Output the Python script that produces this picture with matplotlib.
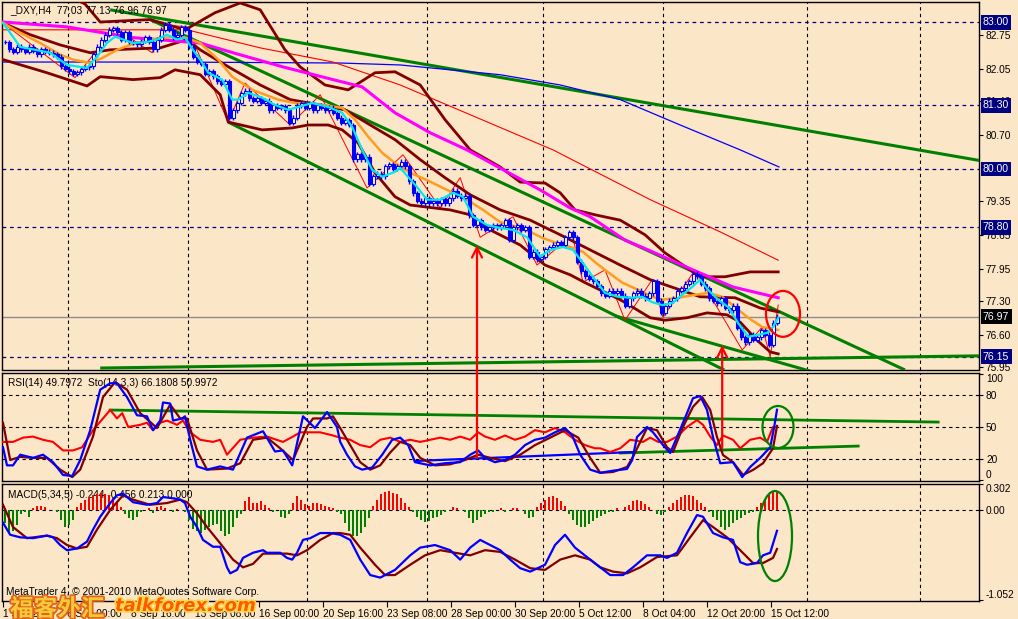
import numpy as np
import matplotlib
matplotlib.use("Agg")
import matplotlib.pyplot as plt
import matplotlib.transforms as mtransforms
import matplotlib.patheffects as pe
from matplotlib.patches import Ellipse, ConnectionPatch

plt.rcParams['font.family'] = ['Liberation Sans', 'DejaVu Sans']

# =========================================================
# DATA  (x = H4 bar index, y = price / indicator value)
# =========================================================
close = [
    82.60, 82.45, 82.40, 82.50, 82.45, 82.40, 82.50, 82.42, 82.35, 82.45,
    82.40, 82.38, 82.35, 82.30, 82.10, 82.05, 82.00, 81.95, 81.98, 82.05,
    82.08, 82.10, 82.35, 82.50, 82.65, 82.75, 82.85, 82.88, 82.80, 82.65,
    82.80, 82.60, 82.58, 82.55, 82.62, 82.70, 82.60, 82.45, 82.65, 82.85,
    82.95, 82.85, 82.70, 82.75, 82.90, 82.85, 82.50, 82.30, 82.20, 82.15,
    81.95, 82.00, 81.90, 81.80, 81.75, 81.80, 81.05, 81.20, 81.35, 81.55,
    81.60, 81.45, 81.40, 81.45, 81.35, 81.40, 81.20, 81.30, 81.25, 81.28,
    81.20, 80.95, 81.05, 81.30, 81.35, 81.25, 81.35, 81.20, 81.30, 81.25,
    81.20, 81.25, 81.15, 81.05, 80.95, 81.00, 80.90, 80.20, 80.30, 80.20,
    80.25, 79.70, 79.85, 79.90, 79.85, 80.05, 80.10, 80.00, 80.05, 80.15,
    80.05, 79.75, 79.50, 79.35, 79.30, 79.40, 79.30, 79.35, 79.30, 79.38,
    79.30, 79.40, 79.55, 79.45, 79.40, 79.45, 79.05, 78.85, 78.95, 78.80,
    78.75, 78.80, 78.85, 78.80, 78.85, 78.95, 78.55, 78.80, 78.85, 78.75,
    78.80, 78.20, 78.30, 78.15, 78.20, 78.35, 78.40, 78.45, 78.50, 78.45,
    78.60, 78.70, 78.60, 78.10, 77.90, 77.80, 77.75, 77.70, 77.60, 77.45,
    77.40, 77.50, 77.45, 77.50, 77.40, 77.20, 77.35, 77.45, 77.50, 77.40,
    77.35, 77.45, 77.70, 77.30, 77.05, 77.20, 77.30, 77.35, 77.50, 77.55,
    77.65, 77.70, 77.85, 77.80, 77.65, 77.55, 77.35, 77.30, 77.25, 77.35,
    77.15, 77.10, 77.20, 76.75, 76.55, 76.45, 76.60, 76.50, 76.55, 76.70,
    76.60, 76.40, 76.85, 76.97,
]

cyan_ma = [(-0.5, 82.99), (3.8, 82.50), (11.3, 82.38), (15.5, 82.13), (20.5, 82.07), (23, 82.30),
           (25.5, 82.58), (27.5, 82.71), (32, 82.58), (35.5, 82.60), (38, 82.65), (40.5, 82.75),
           (43, 82.65), (45, 82.69), (47, 82.44), (48.8, 82.24), (50.8, 81.97), (54.3, 81.83),
           (56.8, 81.42), (58.3, 81.42), (60.8, 81.56), (64.3, 81.46), (67.5, 81.31), (70.8, 81.21),
           (73.3, 81.27), (76.8, 81.35), (80.8, 81.27), (84.3, 81.15), (86.8, 80.86), (89.3, 80.39),
           (91.8, 79.98), (94.3, 79.84), (97.5, 79.94), (98.8, 80.02), (103, 79.63), (105.5, 79.37),
           (108.8, 79.37), (112, 79.51), (114.5, 79.43), (117, 79.02), (120.5, 78.85), (123.8, 78.79),
           (127, 78.75), (130.5, 78.60), (133.8, 78.20), (136.3, 78.34), (139.5, 78.40), (142, 78.34),
           (144.5, 78.07), (147.5, 77.73), (150, 77.46), (153.3, 77.38), (156.8, 77.36), (159.3, 77.38),
           (161.8, 77.27), (164.3, 77.21), (166.8, 77.25), (169.3, 77.42), (171.8, 77.58), (173.8, 77.73),
           (175.8, 77.52), (178.3, 77.32), (180.8, 77.17), (183.3, 76.84), (185.8, 76.56), (188.3, 76.60),
           (190.5, 76.64), (192, 76.76), (193.3, 76.95)]

orange_ma = [(-0.5, 82.99), (3.8, 82.79), (8.8, 82.58), (13.8, 82.34), (17, 82.24), (21.3, 82.17),
             (24.5, 82.28), (28, 82.44), (31.3, 82.54), (36.3, 82.65), (40.5, 82.69), (44.5, 82.71),
             (48.8, 82.58), (53.3, 82.24), (56.8, 81.89), (61.8, 81.62), (68.3, 81.42), (72.5, 81.35),
             (79.3, 81.31), (84.3, 81.25), (87.5, 81.01), (90.8, 80.66), (94.3, 80.33), (97.5, 80.12),
             (101.3, 79.92), (105.5, 79.77), (110.5, 79.57), (115.5, 79.37), (119.5, 79.16), (123.8, 78.91),
             (128, 78.81), (131.3, 78.71), (134.5, 78.58), (138, 78.48), (141.3, 78.40), (144.5, 78.30),
             (147.5, 78.09), (150, 77.93), (154.3, 77.67), (158.3, 77.52), (161.8, 77.38), (164.3, 77.32),
             (168.3, 77.36), (172.5, 77.42), (175.8, 77.46), (179.3, 77.38), (182.5, 77.17), (185.8, 76.95),
             (189.3, 76.76), (193.3, 76.70)]

magenta_ma = [(-0.5, 83.01), (15.5, 82.91), (32, 82.69), (48.8, 82.58), (57, 82.38), (69.5, 82.09),
              (82, 81.83), (89.3, 81.68), (97.5, 81.15), (106.3, 80.74), (115.5, 80.39), (125.5, 79.94),
              (133.8, 79.57), (141.3, 79.20), (146.3, 79.02), (155, 78.54), (160.8, 78.34), (172, 77.93),
              (182, 77.58), (193.3, 77.36)]

blue_ma = [(-0.5, 82.19), (41.3, 82.19), (83.8, 82.17), (98.8, 82.13), (123.8, 81.93), (138.8, 81.72),
           (153.8, 81.42), (168.8, 80.90), (183.8, 80.39), (193.5, 80.04)]

red_ma = [(-0.5, 82.85), (45.5, 82.85), (63.8, 82.48), (82, 82.19), (98.8, 81.72), (116.3, 81.11),
          (137, 80.39), (161.3, 79.37), (178.8, 78.71), (193.3, 78.13)]

bb_upper = [(-0.5, 83.55), (8.8, 83.58), (17, 83.50), (20, 83.38), (23.8, 83.01), (36.3, 83.06), (45, 82.85),
            (52.5, 83.20), (58.8, 83.40), (63.8, 83.26), (70, 82.44), (73.8, 82.09), (80, 81.72),
            (85.8, 81.62), (92.5, 81.97), (97.5, 81.99), (103.8, 81.72), (110, 81.01), (116.3, 80.39),
            (123.8, 80.04), (128.8, 79.73), (135, 79.71), (138.8, 79.51), (142.5, 79.16), (147.5, 79.06),
            (153.8, 78.95), (160, 78.65), (165, 78.28), (171.3, 77.93), (173.8, 77.79), (180, 77.79),
            (186.3, 77.89), (193.3, 77.89)]

bb_middle = [(-0.5, 82.99), (6.3, 82.75), (13.8, 82.54), (21.3, 82.38), (26.3, 82.44), (38.8, 82.48),
             (45.5, 82.65), (48.8, 82.44), (56.3, 82.07), (63.8, 81.72), (71.3, 81.42), (78.8, 81.31),
             (85, 81.21), (91.3, 80.90), (97.5, 80.60), (103.8, 80.19), (110, 79.82), (116.3, 79.47),
             (123.8, 79.16), (131.3, 78.95), (138.8, 78.65), (146.3, 78.34), (153.8, 78.03), (161.3, 77.73),
             (168.8, 77.52), (173.8, 77.38), (182.5, 77.36), (188.8, 77.15), (193.3, 77.07)]

bb_lower = [(-0.5, 82.24), (10.5, 81.97), (20.5, 81.70), (23.8, 81.89), (32, 81.83), (38.8, 81.87),
            (42.5, 82.03), (48.8, 81.93), (53.8, 81.52), (55.8, 80.96), (64.3, 80.80), (71.8, 80.84),
            (75.8, 80.90), (80.8, 80.90), (84.3, 80.80), (88.3, 80.53), (92.5, 79.92), (97.5, 79.43),
            (101.3, 79.26), (111.3, 79.16), (116.3, 79.06), (121.3, 78.75), (128.8, 78.44), (135, 78.03),
            (141.3, 77.83), (145, 77.67), (153.8, 77.32), (161.3, 76.95), (165, 76.90), (170.5, 76.95),
            (175.5, 77.05), (180.5, 77.01), (183.8, 76.86), (188, 76.49), (191.3, 76.25), (193.3, 76.21)]

zigzag = [(-0.5, 82.99), (17.5, 81.87), (27.5, 82.89), (36.8, 82.38), (40, 82.95), (45.5, 82.91),
          (55.8, 80.96), (60, 81.76), (71.3, 80.90), (78.8, 81.52), (90.5, 79.61), (99.5, 80.29),
          (108.8, 79.20), (113.8, 79.82), (118.8, 78.60), (127, 79.02), (133, 78.03), (141.8, 78.65),
          (144.5, 77.68), (150, 77.93), (155, 76.90), (161.8, 77.73), (164.5, 76.96), (172.5, 77.93),
          (184.3, 76.29), (189.3, 76.76), (191.3, 76.15), (193.3, 77.21)]

# trendlines drawn on the chart: (start, end)
price_trendlines = [((26.3, 83.26), (243.8, 80.17)),
                    ((36.3, 83.06), (225.0, 75.88)),
                    ((55.8, 80.96), (179.8, 75.88)),
                    ((152.5, 76.99), (206.3, 75.74)),
                    ((23.8, 75.92), (243.8, 76.17))]
price_levels = [83.00, 81.30, 80.00, 78.80, 76.15]
last_price = 76.97
price_ticks = [82.75, 82.05, 81.40, 80.70, 79.35, 78.65, 77.95, 77.30, 76.60, 75.95]

rsi = [(-0.5, 36), (2, 36), (4.5, 40), (7, 41), (9.5, 38), (12, 36), (14.5, 28), (17, 28), (19.3, 31),
       (22, 47), (24.5, 58), (26.3, 66), (28, 58), (29.3, 63), (30.8, 50), (33.8, 52), (35.5, 54),
       (37, 47), (38.8, 54), (40.5, 56), (43, 52), (44.5, 56), (46.3, 45), (48.8, 38), (52, 36),
       (53.8, 38), (55.5, 24), (58.8, 38), (62, 40), (65.5, 41), (69.5, 36), (72, 41), (73.8, 45),
       (78.8, 45), (82, 42), (83.8, 40), (86.3, 38), (88.8, 33), (91.3, 31), (93.8, 38), (96.3, 40),
       (98.8, 36), (101.3, 38), (103.8, 36), (106.3, 38), (108.8, 40), (111.3, 38), (113.8, 41),
       (116.3, 38), (118.3, 45), (120, 41), (122.5, 38), (125, 42), (127.5, 38), (130, 41), (132.5, 47),
       (135, 45), (137.5, 49), (140, 45), (142.5, 38), (145, 33), (147.5, 30), (148.8, 30), (151.3, 26.5),
       (153.8, 30), (156.3, 38), (159.5, 36), (161.3, 40), (163.3, 36), (165.5, 36), (168, 41),
       (170.5, 50), (173, 56.5), (174.5, 52), (176.3, 41), (178, 33), (179.5, 42), (182, 38), (183.8, 30),
       (186.3, 38), (188.8, 40), (190.5, 36), (192, 50), (193, 49.8)]

stoch_main = [(-0.5, 31), (0.5, 14), (2, 14), (3.8, 24), (7, 21), (9.5, 24), (12, 17), (14.5, 5), (16.8, 4),
              (18.8, 19), (21.3, 47), (23.8, 85), (26.3, 91), (28, 91), (30.5, 78), (33, 61), (35.5, 60),
              (37, 47), (38.8, 56), (39.5, 73), (41.3, 72), (42, 56), (44.3, 58), (45, 60), (46.3, 38),
              (48, 13), (50.5, 10), (53.8, 13), (57, 10), (60.5, 40), (64.5, 46), (67.5, 27), (69.5, 28),
              (71.8, 14), (74.5, 60), (77.5, 49), (80.5, 64), (83, 50), (83.8, 36), (85.5, 24), (87.5, 13),
              (89.3, 10), (91.8, 12), (94.3, 24), (96.8, 38), (98.8, 40), (100.8, 33), (102.5, 17),
              (106.3, 14), (110, 16), (113.8, 17), (116.3, 24), (118.3, 28), (120, 21), (122.5, 17),
              (125, 19), (127.5, 24), (130, 33), (132.5, 38), (135, 40), (137.5, 45), (140, 49), (141.8, 42),
              (143.8, 24), (146.3, 10), (148.8, 7), (152, 9), (155.5, 10.6), (156.8, 19), (158, 40.6),
              (160.5, 50), (162, 45), (164.5, 33), (166.3, 25.6), (168, 40.6), (170.5, 63), (172, 77),
              (173.8, 79), (175.5, 66), (177, 40.6), (178.8, 16), (182, 17), (184.3, 3), (186.3, 12.5),
              (188.8, 21), (191.3, 31), (192.3, 50), (193, 66.2)]

stoch_signal = [(-0.5, 54), (1.3, 19), (3.8, 22), (7, 21), (10.5, 21), (13.8, 10), (16.8, 3), (18.8, 10),
                (22, 41), (24.5, 78), (27.5, 92), (30.5, 85), (33.8, 63), (38, 49), (41.3, 71), (43.8, 58),
                (45.5, 58), (48, 28), (50.5, 10), (55.5, 11), (58.8, 16), (62, 38), (65.5, 40), (68.8, 30),
                (72, 19), (75.5, 50), (77, 58), (80.5, 58), (82, 60), (83.8, 49), (86.3, 33), (88.8, 17),
                (91.3, 10), (93.8, 14), (96.3, 26), (98.8, 36), (101.3, 33), (103.8, 21), (107.5, 14),
                (111.3, 15), (115, 19), (118.3, 24), (121.3, 21), (125, 18), (128.8, 24), (132.5, 33),
                (136.3, 40), (140, 47), (143.3, 40), (146.3, 21), (148.8, 7), (152, 7.8), (155.5, 12.5),
                (157, 22), (160.5, 49), (163, 47), (165.5, 31), (167, 26.5), (169.5, 50), (172, 69),
                (174.3, 78), (176.3, 66), (178, 40.6), (179.5, 23.7), (182, 17), (184.5, 5), (187, 9.7),
                (189.5, 16), (192, 30), (193, 51)]

rsi_trendlines_green = [((26.3, 65.9), (233.3, 54.6)), ((153.8, 25.6), (213.3, 32.1))]
rsi_trendlines_blue = [((102.5, 18.1), (157.0, 26.5))]

macd_main = [(-0.5, -0.15), (1.3, -0.29), (3.8, -0.32), (7, -0.33), (10.5, -0.30), (12, -0.32),
             (13.8, -0.41), (15.5, -0.47), (18, -0.45), (20.5, -0.37), (22, -0.23), (23.8, -0.08),
             (26.3, 0.08), (28, 0.17), (29.5, 0.19), (32, 0.09), (35.5, 0.06), (38, 0.08), (39.5, 0.15),
             (41.3, 0.14), (43.8, 0.12), (45, 0.08), (46.3, -0.08), (48, -0.20), (49.5, -0.35), (52, -0.43),
             (53.8, -0.43), (55.5, -0.67), (56.3, -0.74), (58, -0.70), (59.5, -0.56), (62, -0.50),
             (64.5, -0.47), (65.5, -0.50), (68.8, -0.50), (70.5, -0.56), (71.8, -0.58), (73, -0.50),
             (74.5, -0.35), (76.3, -0.33), (78.8, -0.27), (81.3, -0.27), (83.8, -0.29), (86.3, -0.35),
             (88.8, -0.58), (91.3, -0.76), (93.8, -0.79), (97.5, -0.70), (101.3, -0.53), (103.8, -0.44),
             (107.5, -0.41), (111.3, -0.47), (113.8, -0.58), (116.3, -0.44), (118.8, -0.35), (121.3, -0.41),
             (123.8, -0.47), (126.3, -0.58), (128.8, -0.68), (131.3, -0.72), (135, -0.64), (137.5, -0.41),
             (140, -0.29), (142.5, -0.44), (146.3, -0.58), (148.8, -0.67), (151.3, -0.76), (154.5, -0.76),
             (157, -0.67), (160.5, -0.53), (163.8, -0.53), (165.5, -0.56), (168, -0.50), (170.5, -0.27),
             (173, -0.06), (174.5, -0.08), (177, -0.27), (179.5, -0.32), (182, -0.35), (183.8, -0.61),
             (185.5, -0.64), (188, -0.62), (189.5, -0.53), (191.3, -0.50), (193, -0.244)]

macd_signal = [(-0.5, 0.06), (2, -0.20), (5.5, -0.33), (10.5, -0.30), (13, -0.33), (15.5, -0.41),
               (18, -0.45), (20.5, -0.43), (23, -0.23), (26.3, 0.0), (29.5, 0.17), (32, 0.12), (36.3, 0.06),
               (40.5, 0.08), (43.8, 0.12), (45.5, 0.09), (48, -0.04), (50.5, -0.20), (53.8, -0.39),
               (57, -0.58), (59.5, -0.67), (62, -0.63), (64.5, -0.51), (68, -0.51), (70.5, -0.51),
               (73, -0.53), (75.5, -0.47), (78.8, -0.35), (82, -0.27), (83.8, -0.27), (86.3, -0.29),
               (88.8, -0.44), (92.5, -0.64), (95, -0.76), (97.5, -0.76), (101.3, -0.64), (105, -0.53),
               (108.8, -0.47), (112.5, -0.50), (116.3, -0.53), (120, -0.47), (123.8, -0.49), (127.5, -0.58),
               (131.3, -0.68), (135, -0.70), (138.8, -0.58), (142.5, -0.53), (146.3, -0.58), (148.8, -0.67),
               (152, -0.72), (155.5, -0.74), (158.8, -0.67), (163, -0.55), (168, -0.53), (171.3, -0.32),
               (174.5, -0.12), (177, -0.20), (180.5, -0.32), (183.8, -0.47), (187, -0.62), (189.5, -0.62),
               (192, -0.56), (193, -0.456)]

macd_hist = [
    -0.15, -0.27, -0.25, -0.18, -0.05, -0.02, -0.08, 0.02, 0.04, 0.05,
    0.03, 0.0, 0.0, -0.03, -0.12, -0.20, -0.18, -0.12, 0.03, 0.08,
    0.12, 0.15, 0.17, 0.19, 0.20, 0.19, 0.17, 0.14, 0.08, 0.03,
    -0.05, -0.10, -0.12, -0.08, -0.03, 0.0, 0.02, -0.04, 0.03, 0.05,
    0.02, 0.0, -0.02, 0.01, 0.0, -0.03, -0.12, -0.22, -0.25, -0.27,
    -0.23, -0.20, -0.18, -0.17, -0.25, -0.30, -0.28, -0.20, -0.10, -0.05,
    0.10, 0.15, 0.08, 0.08, 0.10, 0.06, 0.02, -0.02, 0.0, -0.08,
    -0.10, -0.05, 0.08, 0.16, 0.12, 0.07, 0.05, 0.08, 0.08, 0.07,
    0.05, 0.03, 0.02, -0.02, -0.05, -0.15, -0.25, -0.30, -0.30, -0.27,
    -0.20, -0.10, 0.05, 0.12, 0.18, 0.21, 0.22, 0.20, 0.18, 0.14,
    0.08, 0.03, -0.03, -0.08, -0.12, -0.14, -0.13, -0.10, -0.08, -0.06,
    -0.03, 0.0, 0.03, 0.02, 0.0, -0.03, -0.10, -0.15, -0.12, -0.08,
    -0.05, -0.03, -0.02, 0.0, 0.02, -0.03, 0.0, 0.02, 0.02, 0.0,
    -0.05, -0.10, -0.08, 0.03, 0.08, 0.12, 0.15, 0.16, 0.14, 0.10,
    0.05, -0.05, -0.12, -0.18, -0.20, -0.20, -0.17, -0.13, -0.10, -0.07,
    -0.05, -0.03, -0.02, 0.02, 0.0, 0.03, 0.06, 0.10, 0.12, 0.10,
    0.07, 0.03, 0.0, -0.05, -0.06, -0.02, 0.03, 0.08, 0.12, 0.15,
    0.17, 0.17, 0.16, 0.12, 0.08, 0.03, -0.03, -0.08, -0.12, -0.20,
    -0.24, -0.20, -0.15, -0.12, -0.10, -0.06, -0.04, -0.02, 0.03, 0.08,
    0.12, 0.17, 0.21, 0.213,
]

# vertical week separators and date labels along the bottom
grid_bars = [15.75, 45.75, 75.5, 105.5, 134.5, 164.5, 200.5, 228.75]
date_labels = ['1 Sep 2010', '6 Sep 00:00', '8 Sep 16:00', '13 Sep 08:00', '16 Sep 00:00',
               '20 Sep 16:00', '23 Sep 08:00', '28 Sep 00:00', '30 Sep 20:00', '5 Oct 12:00',
               '8 Oct 04:00', '12 Oct 20:00', '15 Oct 12:00']
bars_per_label = 16

# hand-drawn annotations: red arrows (bar, RSI start, price end) and ellipses (cx, cy, w, h)
arrow_bars = [118.0, 179.3]
arrow_rsi_start = [21, 30]
arrow_price_end = [78.44, 76.39]
price_ellipse = (194.5, 77.03, 8.5, 0.94)
rsi_ellipse = (193.25, 50.0, 7.75, 39.4)
macd_ellipse = (192.5, -0.305, 8.5, 1.05)

# =========================================================
# FIGURE
# =========================================================
BG = '#fce6c8'
BLUE = '#0000ff'
MAROON = '#800000'
GREEN = '#008000'
NAVY = '#000080'
W, H = 1018, 619

fig = plt.figure(figsize=(W / 100, H / 100), dpi=100, facecolor=BG)


def box(l, t, r, b):
    return [l / W, 1 - b / H, (r - l) / W, (b - t) / H]


ax = fig.add_axes(box(2, 2, 979, 369.5), facecolor=BG)
ax_rsi = fig.add_axes(box(2, 372.5, 979, 480.5), facecolor=BG)
ax_macd = fig.add_axes(box(2, 483.5, 979, 600.5), facecolor=BG)

for a in (ax, ax_rsi, ax_macd):
    a.set_xlim(-0.75, 243.5)
    for s in a.spines.values():
        s.set_color('black')
        s.set_linewidth(1.0)
    a.yaxis.tick_right()
    a.tick_params(axis='y', direction='out', length=3, width=0.8, pad=2, labelsize=7.3, colors='black')
    for g in grid_bars:
        a.axvline(g, color='black', lw=0.8, ls=(0, (3, 3)), zorder=1)
ax.set_xticks([])
ax_rsi.set_xticks([])


def xy(pairs):
    arr = np.array(pairs, dtype=float)
    return arr[:, 0], arr[:, 1]


def seg(a, pairs, **kw):
    for (x0, y0), (x1, y1) in pairs:
        a.plot([x0, x1], [y0, y1], **kw)


# ---------------- price panel ----------------
ax.set_ylim(75.89, 83.42)
ax.set_yticks(price_ticks)
ax.set_yticklabels([f'{v:.2f}' for v in price_ticks])

for lv in price_levels:
    ax.axhline(lv, color=NAVY, lw=0.9, ls=(0, (3, 3)), zorder=2)
ax.axhline(last_price, color='#8c8c8c', lw=1.0, zorder=2)

seg(ax, price_trendlines, color=GREEN, lw=2.2, zorder=3, solid_capstyle='butt')

ax.plot(*xy(blue_ma), color=BLUE, lw=0.9, zorder=3)
ax.plot(*xy(red_ma), color='#ff0000', lw=0.8, zorder=3)
ax.plot(*xy(zigzag), color='#ff0000', lw=0.7, zorder=3)
for band in (bb_upper, bb_middle, bb_lower):
    ax.plot(*xy(band), color=MAROON, lw=2.0, zorder=4)
ax.plot(*xy(magenta_ma), color='#ff00ff', lw=2.2, zorder=4)
ax.plot(*xy(orange_ma), color='#ff9c1e', lw=1.8, zorder=4)

c = np.array(close)
xs = np.arange(len(c))
o = np.r_[c[0], c[:-1]]
top = np.maximum(o, c)
bot = np.minimum(o, c)
bull = c >= o
ax.vlines(xs, bot - 0.05, top + 0.05, color=BLUE, lw=1.0, zorder=5)
ax.bar(xs[bull], (top - bot)[bull], bottom=bot[bull], width=0.75,
       facecolor='white', edgecolor=BLUE, lw=0.8, zorder=6)
ax.bar(xs[~bull], (top - bot)[~bull], bottom=bot[~bull], width=0.75,
       facecolor=BLUE, edgecolor=BLUE, lw=0.8, zorder=6)
ax.plot(*xy(cyan_ma), color='#00e8f0', lw=1.6, zorder=7)

ax.add_patch(Ellipse(price_ellipse[:2], price_ellipse[2], price_ellipse[3],
                     fill=False, ec='#ff0000', lw=1.6, zorder=8))

trans = mtransforms.blended_transform_factory(ax.transAxes, ax.transData)
for lv in price_levels:
    ax.text(1.004, lv, f'{lv:.2f}', transform=trans, fontsize=7.6, color='white', va='center', ha='left',
            bbox=dict(boxstyle='square,pad=0.22', fc=NAVY, ec='none'), zorder=10, clip_on=False)
ax.text(1.004, last_price, f'{last_price:.2f}', transform=trans, fontsize=7.6, color='white', va='center',
        ha='left', bbox=dict(boxstyle='square,pad=0.22', fc='black', ec='none'), zorder=10, clip_on=False)

ax.text(0.008, 0.978, '_DXY,H4  77.03 77.13 76.96 76.97', transform=ax.transAxes,
        fontsize=7.3, va='center', ha='left', zorder=9)

# ---------------- RSI / Stochastic panel ----------------
ax_rsi.set_ylim(-0.2, 101.1)
ax_rsi.set_yticks([100, 80, 50, 20, 0])
ax_rsi.set_yticklabels(['100', '80', '50', '20', '0'])
ax_rsi.get_yticklabels()[0].set_va('top')
ax_rsi.get_yticklabels()[-1].set_va('bottom')
for lv in (80, 50, 20):
    ax_rsi.axhline(lv, color='black', lw=0.8, ls=(0, (3, 3)), zorder=1)

seg(ax_rsi, rsi_trendlines_green, color=GREEN, lw=2.0, zorder=3)
seg(ax_rsi, rsi_trendlines_blue, color=BLUE, lw=1.6, zorder=3)
ax_rsi.plot(*xy(rsi), color='#ff0000', lw=1.5, zorder=4)
ax_rsi.plot(*xy(stoch_signal), color=MAROON, lw=1.6, zorder=5)
ax_rsi.plot(*xy(stoch_main), color=BLUE, lw=1.6, zorder=6)
ax_rsi.add_patch(Ellipse(rsi_ellipse[:2], rsi_ellipse[2], rsi_ellipse[3],
                         fill=False, ec=GREEN, lw=1.6, zorder=8))
ax_rsi.text(0.006, 0.9, 'RSI(14) 49.7972  Sto(14,3,3) 66.1808 50.9972', transform=ax_rsi.transAxes,
            fontsize=7.3, va='center', ha='left', zorder=2)

# ---------------- MACD panel ----------------
ax_macd.set_ylim(-1.057, 0.308)
ax_macd.set_yticks([0.302, 0.0, -1.052])
ax_macd.set_yticklabels(['0.302', '0.00', '-1.052'])
ax_macd.get_yticklabels()[0].set_va('top')
ax_macd.get_yticklabels()[-1].set_va('bottom')
ax_macd.axhline(0, color='black', lw=0.8, ls=(0, (3, 3)), zorder=1)

h = np.array(macd_hist)
ax_macd.bar(np.arange(len(h)), h, width=0.7,
            color=np.where(h > 0, '#ff0000', GREEN), zorder=3)
ax_macd.plot(*xy(macd_signal), color=MAROON, lw=1.6, zorder=4)
ax_macd.plot(*xy(macd_main), color=BLUE, lw=1.6, zorder=5)
ax_macd.add_patch(Ellipse(macd_ellipse[:2], macd_ellipse[2], macd_ellipse[3],
                          fill=False, ec=GREEN, lw=1.6, zorder=8))
ax_macd.text(0.006, 0.9, 'MACD(5,34,5) -0.244 -0.456 0.213 0.000', transform=ax_macd.transAxes,
             fontsize=7.3, va='center', ha='left', zorder=2)
ax_macd.text(0.004, 0.07, 'MetaTrader 4, \u00a9 2001-2010 MetaQuotes Software Corp.',
             transform=ax_macd.transAxes, fontsize=7.3, va='center', ha='left', zorder=2)

ax_macd.set_xticks(np.arange(len(date_labels)) * bars_per_label - 0.5)
ax_macd.set_xticklabels(date_labels, fontsize=7.3, ha='left')
ax_macd.tick_params(axis='x', direction='out', length=4, width=0.8, pad=2)

# ---------------- arrows across panels ----------------
for bx, r0, p1 in zip(arrow_bars, arrow_rsi_start, arrow_price_end):
    con = ConnectionPatch(xyA=(bx, r0), coordsA=ax_rsi.transData, xyB=(bx, p1), coordsB=ax.transData,
                          arrowstyle='->', color='#ff0000', lw=1.6, mutation_scale=18, zorder=20)
    fig.add_artist(con)

# ---------------- watermark ----------------
fig.text(10 / W, 1 - 616 / H, '福客外汇', fontsize=17, family=['Noto Sans CJK SC'], fontweight='bold',
         color='#f5c93a', va='baseline', ha='left',
         path_effects=[pe.withStroke(linewidth=2.5, foreground='#e2641a')], zorder=30)
fig.text(115 / W, 1 - 611 / H, 'talkforex.com', fontsize=13, family=['DejaVu Sans'], fontweight='bold',
         fontstyle='italic', color='#ff5a00', va='baseline', ha='left',
         path_effects=[pe.withStroke(linewidth=2.5, foreground='#ffd84a')], zorder=30)

fig.savefig('out.png', dpi=100, facecolor=BG)
